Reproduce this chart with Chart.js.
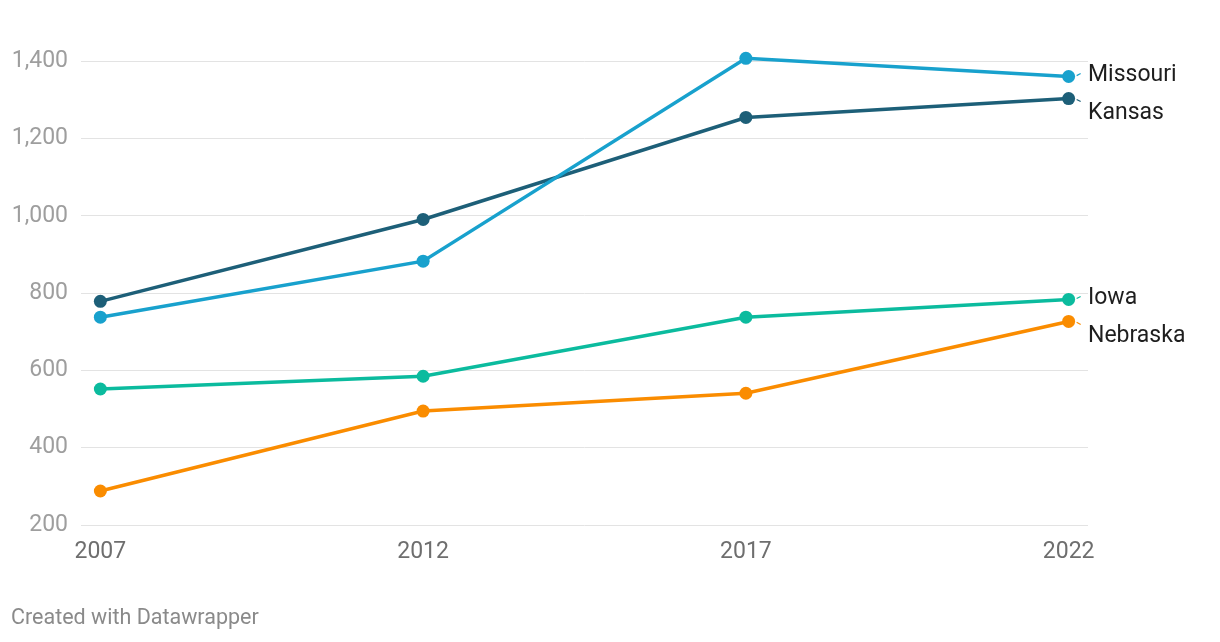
<!DOCTYPE html>
<html>
<head>
<meta charset="utf-8">
<script src="https://cdn.jsdelivr.net/npm/chart.js@4/dist/chart.umd.min.js"></script>
<style>
  html, body { margin: 0; padding: 0; background: #fff; }
  #wrap { width: 1220px; height: 642px; position: relative; }
</style>
</head>
<body>
<div id="wrap"><canvas id="chart"></canvas></div>
<script>
// data
const years = [2007, 2012, 2017, 2022];
const missouri = [738, 883, 1408, 1361];
const kansas = [779, 991, 1255, 1304];
const iowa = [552, 585, 738, 784];
const nebraska = [288, 495, 541, 727];
const yTicks = [200, 400, 600, 800, 1000, 1200, 1400];

// colours
const cMissouri = "#18a1cd";
const cKansas = "#1d5f78";
const cIowa = "#0bbb9e";
const cNebraska = "#fa8c00";

const font = "Roboto";

const mkSet = (label, values, color) => ({
  label: label,
  data: values.map((v, i) => ({ x: years[i], y: v })),
  borderColor: color,
  backgroundColor: color,
  borderWidth: 3.5,
  pointRadius: 6.5,
  pointBorderWidth: 0,
  pointHoverRadius: 6.5,
  tension: 0,
});

// labels at the end of each line, pushed apart so they do not overlap
const endLabels = {
  id: "endLabels",
  afterDatasetsDraw(chart) {
    const ctx = chart.ctx;
    const items = chart.data.datasets.map((ds, i) => {
      const pts = chart.getDatasetMeta(i).data;
      const p = pts[pts.length - 1];
      return { text: ds.label, color: ds.borderColor, x: p.x, y: p.y, ly: p.y };
    });
    items.sort((a, b) => a.y - b.y);
    const gap = 38;
    // neighbours closer than gap get spread around their middle
    let groups = items.map((it) => [it]);
    let moved = true;
    while (moved) {
      moved = false;
      for (let i = 0; i < groups.length - 1; i++) {
        const a = groups[i], b = groups[i + 1];
        const aEnd = a[a.length - 1].ly, bStart = b[0].ly;
        if (bStart - aEnd < gap) {
          const g = a.concat(b);
          const mid = g.reduce((s, it) => s + it.y, 0) / g.length + 6.5;
          g.forEach((it, k) => { it.ly = mid + (k - (g.length - 1) / 2) * gap; });
          groups.splice(i, 2, g);
          moved = true;
          break;
        }
      }
    }
    ctx.save();
    ctx.font = "23px " + font;
    ctx.textAlign = "left";
    ctx.textBaseline = "middle";
    items.forEach((it) => {
      ctx.strokeStyle = it.color;
      ctx.lineWidth = 1.2;
      ctx.beginPath();
      const dy = Math.sign(it.ly - it.y) * 3;
      ctx.moveTo(it.x + 8, it.y + dy * 0.3);
      ctx.lineTo(it.x + 12, it.y + dy);
      ctx.stroke();
      ctx.fillStyle = "#1e1e1e";
      ctx.fillText(it.text, 1088, it.ly);
    });
    ctx.restore();
  },
};

const footer = {
  id: "footer",
  afterDraw(chart) {
    const ctx = chart.ctx;
    ctx.save();
    ctx.font = "21.5px " + font;
    ctx.fillStyle = "#8a8a8a";
    ctx.textBaseline = "middle";
    ctx.textAlign = "left";
    ctx.fillText("Created with Datawrapper", 11, 619);
    ctx.restore();
  },
};

const ctx = document.querySelector("#chart").getContext("2d");

new Chart(ctx, {
  type: "line",
  data: {
    datasets: [
      mkSet("Missouri", missouri, cMissouri),
      mkSet("Kansas", kansas, cKansas),
      mkSet("Iowa", iowa, cIowa),
      mkSet("Nebraska", nebraska, cNebraska),
    ],
  },
  options: {
    responsive: true,
    maintainAspectRatio: false,
    animation: false,
    layout: { padding: { top: 46, right: 132, bottom: 77, left: 0 } },
    plugins: { legend: { display: false }, tooltip: { enabled: false } },
    scales: {
      x: {
        type: "linear",
        min: 2006.7,
        max: 2022.3,
        afterBuildTicks: (axis) => { axis.ticks = years.map((v) => ({ value: v })); },
        afterFit: (axis) => { axis.height = 40; },
        grid: { display: false, drawTicks: false },
        border: { display: false },
        ticks: {
          padding: 13,
          color: "#6e6e6e",
          font: { family: font, size: 23 },
          callback: (v) => String(v),
          maxRotation: 0,
        },
      },
      y: {
        min: 200,
        max: 1440,
        afterBuildTicks: (axis) => { axis.ticks = yTicks.map((v) => ({ value: v })); },
        afterFit: (axis) => { axis.width = 81; },
        grid: { color: "#e3e3e3", lineWidth: 1, drawTicks: false },
        border: { display: false },
        ticks: {
          padding: 13,
          color: "#9e9e9e",
          font: { family: font, size: 23 },
          callback: (v) => v.toLocaleString("en-US"),
        },
      },
    },
  },
  plugins: [endLabels, footer],
});
</script>
</body>
</html>
